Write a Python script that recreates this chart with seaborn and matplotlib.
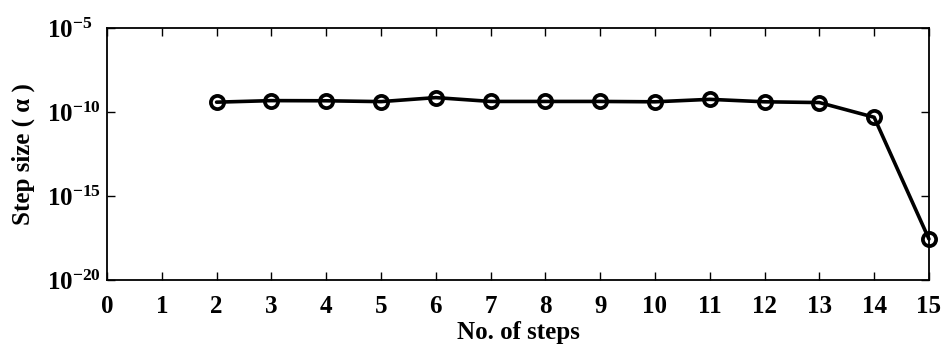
import math
import matplotlib
matplotlib.use("Agg")
import matplotlib.pyplot as plt
import matplotlib.ticker as mticker
import seaborn as sns
import pandas as pd

steps = [2, 3, 4, 5, 6, 7, 8, 9, 10, 11, 12, 13, 14, 15]
step_size = [3.8e-10, 4.7e-10, 4.6e-10, 4.1e-10, 7.1e-10, 4.2e-10, 4.2e-10,
             4.2e-10, 4.0e-10, 5.6e-10, 4.0e-10, 3.6e-10, 4.8e-11, 2.75e-18]
x_ticks = list(range(0, 16))
y_ticks = [1e-20, 1e-15, 1e-10, 1e-5]

sns.set_style("ticks")
plt.rcParams['font.family'] = ['Liberation Serif', 'DejaVu Serif']
plt.rcParams['font.weight'] = 'bold'
plt.rcParams['mathtext.fontset'] = 'custom'
plt.rcParams['mathtext.rm'] = 'Liberation Serif:bold'
plt.rcParams['mathtext.it'] = 'Liberation Serif:bold'
plt.rcParams['mathtext.bf'] = 'Liberation Serif:bold'
for k in ['text.color', 'axes.labelcolor', 'xtick.color', 'ytick.color', 'axes.edgecolor']:
    plt.rcParams[k] = 'black'

df = pd.DataFrame({"steps": steps, "alpha": step_size})

fig = plt.figure(figsize=(9.45, 3.44), dpi=100)
ax = fig.add_axes([0.1132, 0.186, 0.8698, 0.733])

sns.lineplot(data=df, x="steps", y="alpha", ax=ax, color="black", linewidth=2.6,
             marker="o", markersize=9.5, markerfacecolor="none",
             markeredgecolor="black", markeredgewidth=2.7, clip_on=False, zorder=5)

ax.set_yscale("log")
ax.set_xlim(0, 15)
ax.set_ylim(1e-20, 1e-5)
ax.set_xticks(x_ticks)
ax.set_yticks(y_ticks)
ax.yaxis.set_minor_locator(mticker.NullLocator())
ax.yaxis.set_major_formatter(mticker.FuncFormatter(
    lambda v, p: r"$10^{%d}$" % round(math.log10(v))))

ax.tick_params(direction="in", top=True, right=True, length=6, width=1,
               labelsize=18, labelcolor="black")
ax.tick_params(axis="x", pad=11)
ax.tick_params(axis="y", pad=43)
for lbl in ax.get_yticklabels():
    lbl.set_horizontalalignment("left")
for s in ax.spines.values():
    s.set_linewidth(1.3)
    s.set_color("black")

ax.set_xlabel("No. of steps", fontsize=18, fontweight="bold", labelpad=2, color="black")
ax.set_ylabel("Step size ( α )", fontsize=18, fontweight="bold", color="black")
ax.yaxis.set_label_coords(-0.087, 0.5)

fig.savefig("out.png", dpi=100)
